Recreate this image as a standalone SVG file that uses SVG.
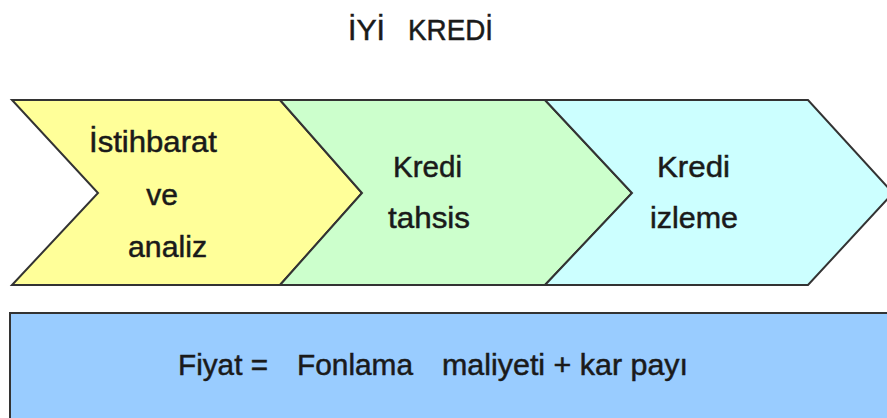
<svg xmlns="http://www.w3.org/2000/svg" width="887" height="418" viewBox="0 0 887 418">
  <style>
    .shape { stroke: #333333; stroke-width: 2; stroke-linejoin: miter; }
    .t { font-family: "Liberation Sans", Arial, sans-serif; font-size: 30px; fill: #1a1a1a; stroke: #1a1a1a; stroke-width: 0.5; }
    .c { text-anchor: middle; }
  </style>
  <rect width="887" height="418" fill="#ffffff"/>
  <g id="title">
    <text class="t" x="348" y="40" textLength="37" lengthAdjust="spacingAndGlyphs">İYİ</text>
    <text class="t" x="408" y="40" textLength="85" lengthAdjust="spacingAndGlyphs">KREDİ</text>
  </g>
  <g id="node-istihbarat">
    <polygon class="shape" fill="#FFFF99" points="12,100 280,100 362,193 280,285 12,285 98,193"/>
    <text class="t" x="89" y="152" textLength="128" lengthAdjust="spacingAndGlyphs">İstihbarat</text>
    <text class="t c" x="162" y="205">ve</text>
    <text class="t" x="128" y="257" textLength="79" lengthAdjust="spacingAndGlyphs">analiz</text>
  </g>
  <g id="node-tahsis">
    <polygon class="shape" fill="#CCFFCC" points="280,100 545,100 632,193 545,285 280,285 362,193"/>
    <text class="t" x="393" y="177" textLength="69" lengthAdjust="spacingAndGlyphs">Kredi</text>
    <text class="t" x="388" y="228" textLength="82" lengthAdjust="spacingAndGlyphs">tahsis</text>
  </g>
  <g id="node-izleme">
    <polygon class="shape" fill="#CCFFFF" points="545,100 808,100 893,193 808,285 545,285 632,193"/>
    <text class="t" x="657" y="177" textLength="73" lengthAdjust="spacingAndGlyphs">Kredi</text>
    <text class="t" x="650" y="228" textLength="88" lengthAdjust="spacingAndGlyphs">izleme</text>
  </g>
  <g id="node-fiyat">
    <rect class="shape" fill="#99CCFF" x="10" y="313" width="890" height="120" stroke="#555555"/>
    <text class="t" x="178" y="375" textLength="90" lengthAdjust="spacingAndGlyphs">Fiyat =</text>
    <text class="t" x="297" y="375" textLength="116" lengthAdjust="spacingAndGlyphs">Fonlama</text>
    <text class="t" x="442" y="375" textLength="246" lengthAdjust="spacingAndGlyphs">maliyeti + kar payı</text>
  </g>
</svg>
